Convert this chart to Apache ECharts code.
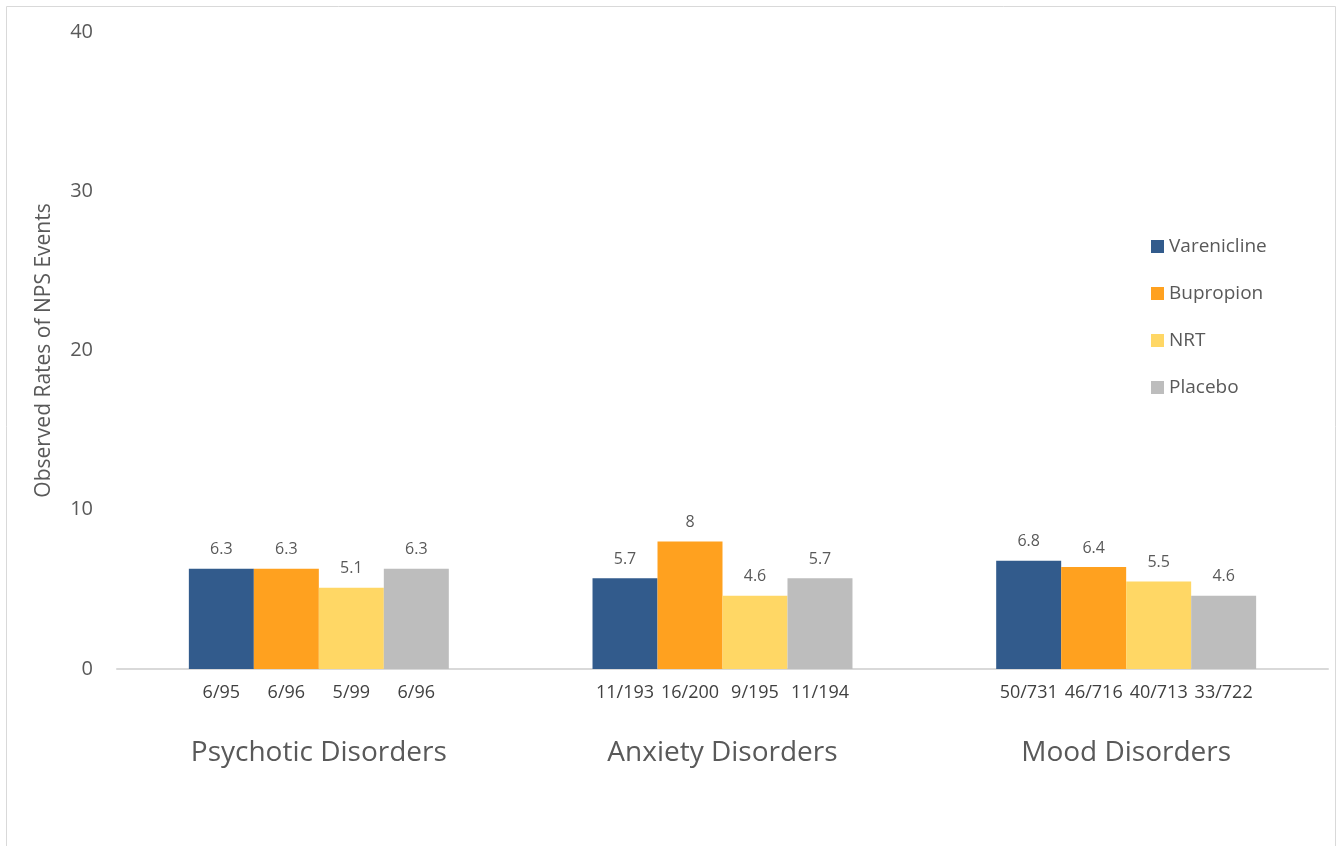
<!DOCTYPE html>
<html>
<head>
<meta charset="utf-8">
<script src="https://cdn.jsdelivr.net/npm/echarts@6/dist/echarts.min.js"></script>
<style>
  html, body { margin: 0; padding: 0; background: #fff; }
  #chart { width: 1342px; height: 846px; }
</style>
</head>
<body>
<div id="chart"></div>
<script>
const categories = ["Psychotic Disorders", "Anxiety Disorders", "Mood Disorders"];
const seriesNames = ["Varenicline", "Bupropion", "NRT", "Placebo"];
const colors = ["#325b8c", "#ffa11f", "#ffd765", "#bdbdbd"];

// observed rates per treatment, one value per category
const varenicline = [6.3, 5.7, 6.8];
const bupropion = [6.3, 8, 6.4];
const nrt = [5.1, 4.6, 5.5];
const placebo = [6.3, 5.7, 4.6];

// events / participants shown under each bar
const vareniclineCounts = ["6/95", "11/193", "50/731"];
const bupropionCounts = ["6/96", "16/200", "46/716"];
const nrtCounts = ["5/99", "9/195", "40/713"];
const placeboCounts = ["6/96", "11/194", "33/722"];

const yTicks = { min: 0, max: 40, interval: 10 };

const values = [varenicline, bupropion, nrt, placebo];
const counts = [vareniclineCounts, bupropionCounts, nrtCounts, placeboCounts];
const fontFamily = "'Open Sans', 'Noto Sans', sans-serif";

const chart = echarts.init(document.getElementById("chart"));

const barSeries = seriesNames.map((name, i) => ({
  name: name,
  type: "bar",
  xAxisIndex: 0,
  barGap: "0%",
  barCategoryGap: "35.6%",
  itemStyle: { color: colors[i] },
  label: {
    show: true,
    position: "top",
    distance: 11,
    color: "#595959",
    fontSize: 16,
    fontFamily: fontFamily,
  },
  data: values[i],
}));

// invisible copies on a hidden axis, only to place the n/N labels under the bars
const countSeries = seriesNames.map((name, i) => ({
  name: name + "-counts",
  type: "bar",
  xAxisIndex: 1,
  barGap: "0%",
  barCategoryGap: "35.6%",
  silent: true,
  itemStyle: { color: "rgba(0,0,0,0)" },
  label: {
    show: true,
    position: "bottom",
    distance: 15,
    color: "#404040",
    fontSize: 18,
    fontFamily: fontFamily,
    formatter: (p) => counts[i][p.dataIndex],
  },
  data: values[i],
}));

const option = {
  animation: false,
  textStyle: { fontFamily: fontFamily },
  graphic: [
    {
      type: "rect",
      shape: { x: 6.5, y: 6.5, width: 1329, height: 900 },
      style: { fill: "none", stroke: "#d9d9d9", lineWidth: 1 },
    },
  ],
  grid: { left: 117, right: 14, top: 32, bottom: 177 },
  legend: {
    data: seriesNames,
    orient: "vertical",
    left: 1146,
    top: 232,
    icon: "rect",
    itemWidth: 13,
    itemHeight: 13,
    itemGap: 28,
    textStyle: { color: "#595959", fontSize: 19, fontFamily: fontFamily },
  },
  xAxis: [
    {
      type: "category",
      data: categories,
      axisLine: { lineStyle: { color: "#d9d9d9", width: 2 } },
      axisTick: { show: false },
      axisLabel: {
        margin: 70,
        color: "#595959",
        fontSize: 28,
        fontFamily: fontFamily,
      },
    },
    {
      type: "category",
      data: categories,
      show: false,
      position: "bottom",
    },
  ],
  yAxis: {
    type: "value",
    min: yTicks.min,
    max: yTicks.max,
    interval: yTicks.interval,
    name: "Observed Rates of NPS Events",
    nameLocation: "middle",
    nameGap: 62,
    nameTextStyle: { color: "#595959", fontSize: 21, fontFamily: fontFamily },
    axisLine: { show: false },
    axisTick: { show: false },
    splitLine: { show: false },
    axisLabel: {
      margin: 24,
      color: "#595959",
      fontSize: 20,
      fontFamily: fontFamily,
    },
  },
  series: barSeries.concat(countSeries),
};

chart.setOption(option);
</script>
</body>
</html>
